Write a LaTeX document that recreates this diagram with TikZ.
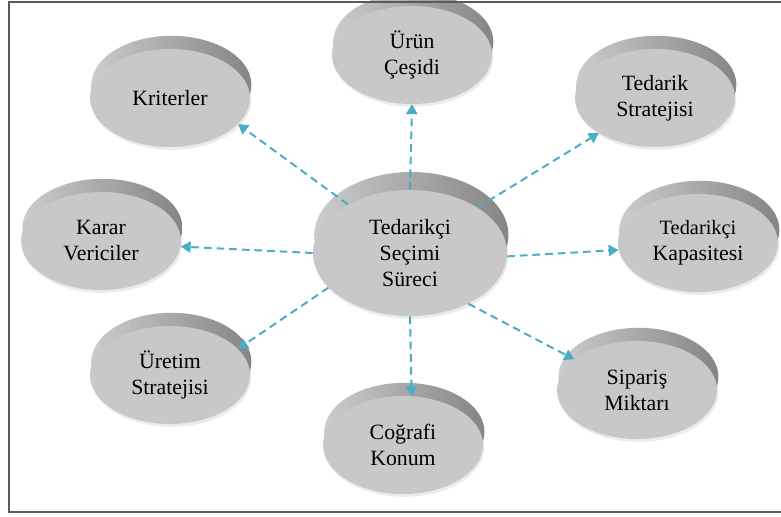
\documentclass[tikz,border=0pt]{standalone}
\usepackage{fontspec}
\setmainfont{Liberation Serif}
\usepackage{tikz}
\usetikzlibrary{shapes.geometric, arrows.meta}
\definecolor{linkblue}{RGB}{75, 172, 198}
\definecolor{facegray}{RGB}{200, 200, 200}
\definecolor{framegray}{RGB}{90, 90, 90}

\tikzset{
  disc/.style={ellipse, fill=facegray, minimum width=4cm, minimum height=2.45cm,
    inner sep=0pt, align=center, font=\fontsize{15.5}{18.5}\selectfont,
    preaction={fill=black!8, transform canvas={xshift=0.03cm, yshift=-0.07cm}},
    preaction={left color=black!20, right color=black!48,
      transform canvas={xshift=0.035cm, yshift=#1}}},
  disc/.default=0.33cm,
  link/.style={linkblue, line width=1.4pt, dash pattern=on 5.5pt off 3.5pt,
    -{Triangle[length=7pt, width=8pt]}}
}

\begin{document}
\begin{tikzpicture}
  \useasboundingbox (0, 0) rectangle (19.525, 12.9);

  % The process in the middle
  \node[disc=0.45cm, minimum width=4.85cm, minimum height=3.15cm] (surec) at (10.25, 6.575) {Tedarikçi\\Seçimi\\Süreci};

  % Surrounding factors
  \node[disc] (kriter) at (4.25, 10.45) {Kriterler};
  \node[disc] (urun) at (10.3, 11.525) {Ürün\\Çeşidi};
  \node[disc] (tedstrat) at (16.375, 10.45) {Tedarik\\Stratejisi};
  \node[disc] (karar) at (2.525, 6.875) {Karar\\Vericiler};
  \node[disc] (kapasite) at (17.45, 6.825) {\fontsize{14.5}{17.5}\selectfont Tedarikçi\\Kapasitesi};
  \node[disc] (uretim) at (4.25, 3.525) {Üretim\\Stratejisi};
  \node[disc] (cografi) at (10.075, 1.775) {Coğrafi\\Konum};
  \node[disc] (siparis) at (15.925, 3.15) {Sipariş\\Miktarı};

  % Dashed links
  \draw[link] (surec.142) -- (kriter.339);
  \draw[link] (surec.90) -- (urun.south);
  \draw[link] (surec.34) -- (tedstrat.212);
  \draw[link] (surec.180) -- (karar.356);
  \draw[link] (surec.358) -- (kapasite.185);
  \draw[link] (surec.203) -- (uretim.21);
  \draw[link] (surec.270) -- (cografi.80);
  \draw[link] (surec.319) -- (siparis.154);

  % Frame
  \draw[framegray, line width=1.3pt] (19.525, 12.84) -- (0.225, 12.84) -- (0.225, 0.09) -- (19.525, 0.09);
\end{tikzpicture}
\end{document}
